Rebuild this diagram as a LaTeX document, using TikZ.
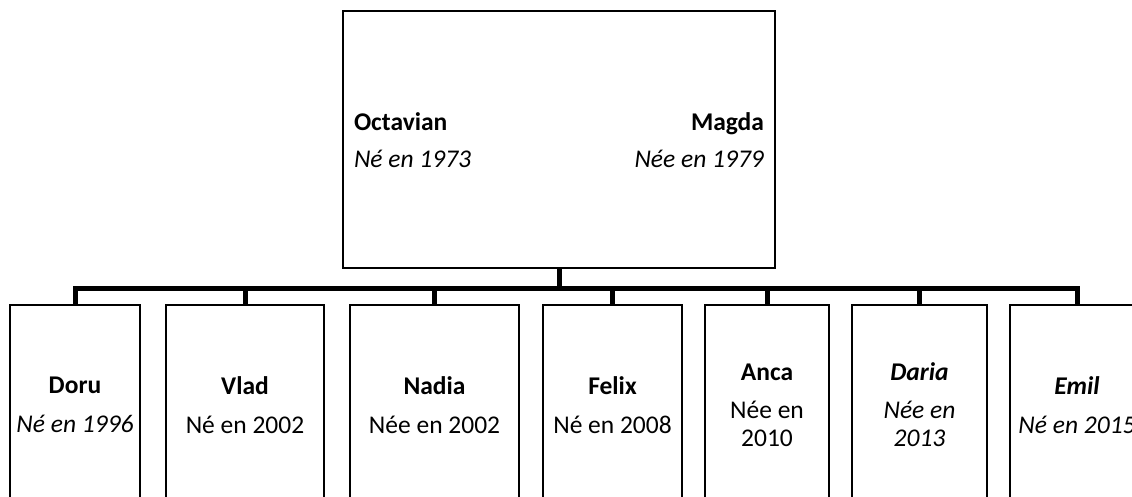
\documentclass[tikz,border=0pt]{standalone}
\usepackage{fontspec}
\setmainfont{Carlito}
\begin{document}
\begin{tikzpicture}[x=1pt, y=-1pt, line width=2pt,
    font=\fontsize{25.5}{31}\selectfont,
    person/.style={draw, minimum width=#1, minimum height=200pt, inner sep=0pt, align=center},
    branch/.style={line width=5pt}]
    \useasboundingbox (0,0) rectangle (1132,496);
    \clip (0,0) rectangle (1132,496);
    \node [draw, minimum width=432pt, minimum height=257pt] (parents) at (559,139.5) {};
    \node [anchor=west, align=left, inner sep=0pt] (octavian) at (353,140) {\textbf{Octavian}\\[6pt]\textit{Né en 1973}};
    \node [anchor=east, align=right, inner sep=0pt] (magda) at (765,140) {\textbf{Magda}\\[6pt]\textit{Née en 1979}};
    \node [person=130pt] (doru) at (75,405) {\textbf{Doru}\\[8pt]\textit{Né en 1996}};
    \node [person=158pt] (vlad) at (245,405) {\textbf{Vlad}\\[8pt]Né en 2002};
    \node [person=169pt] (nadia) at (434.5,405) {\textbf{Nadia}\\[8pt]Née en 2002};
    \node [person=139pt] (felix) at (612.5,405) {\textbf{Felix}\\[8pt]Né en 2008};
    \node [person=124pt] (anca) at (767,405) {\textbf{Anca}\\[7pt]Née en\\[-3pt]2010};
    \node [person=135pt] (daria) at (919.5,405) {\textbf{\textit{Daria}}\\[7pt]\textit{Née en}\\[-3pt]\textit{2013}};
    \node [person=134pt] (emil) at (1077,405) {\textbf{\textit{Emil}}\\[8pt]\textit{Né en 2015}};
    \draw [branch] (parents.south) -- ++(0,19) -| (doru);
    \draw [branch] (parents.south) -- ++(0,19) -| (vlad);
    \draw [branch] (parents.south) -- ++(0,19) -| (nadia);
    \draw [branch] (parents.south) -- ++(0,19) -| (felix);
    \draw [branch] (parents.south) -- ++(0,19) -| (anca);
    \draw [branch] (parents.south) -- ++(0,19) -| (daria);
    \draw [branch] (parents.south) -- ++(0,19) -| (emil);
\end{tikzpicture}
\end{document}
